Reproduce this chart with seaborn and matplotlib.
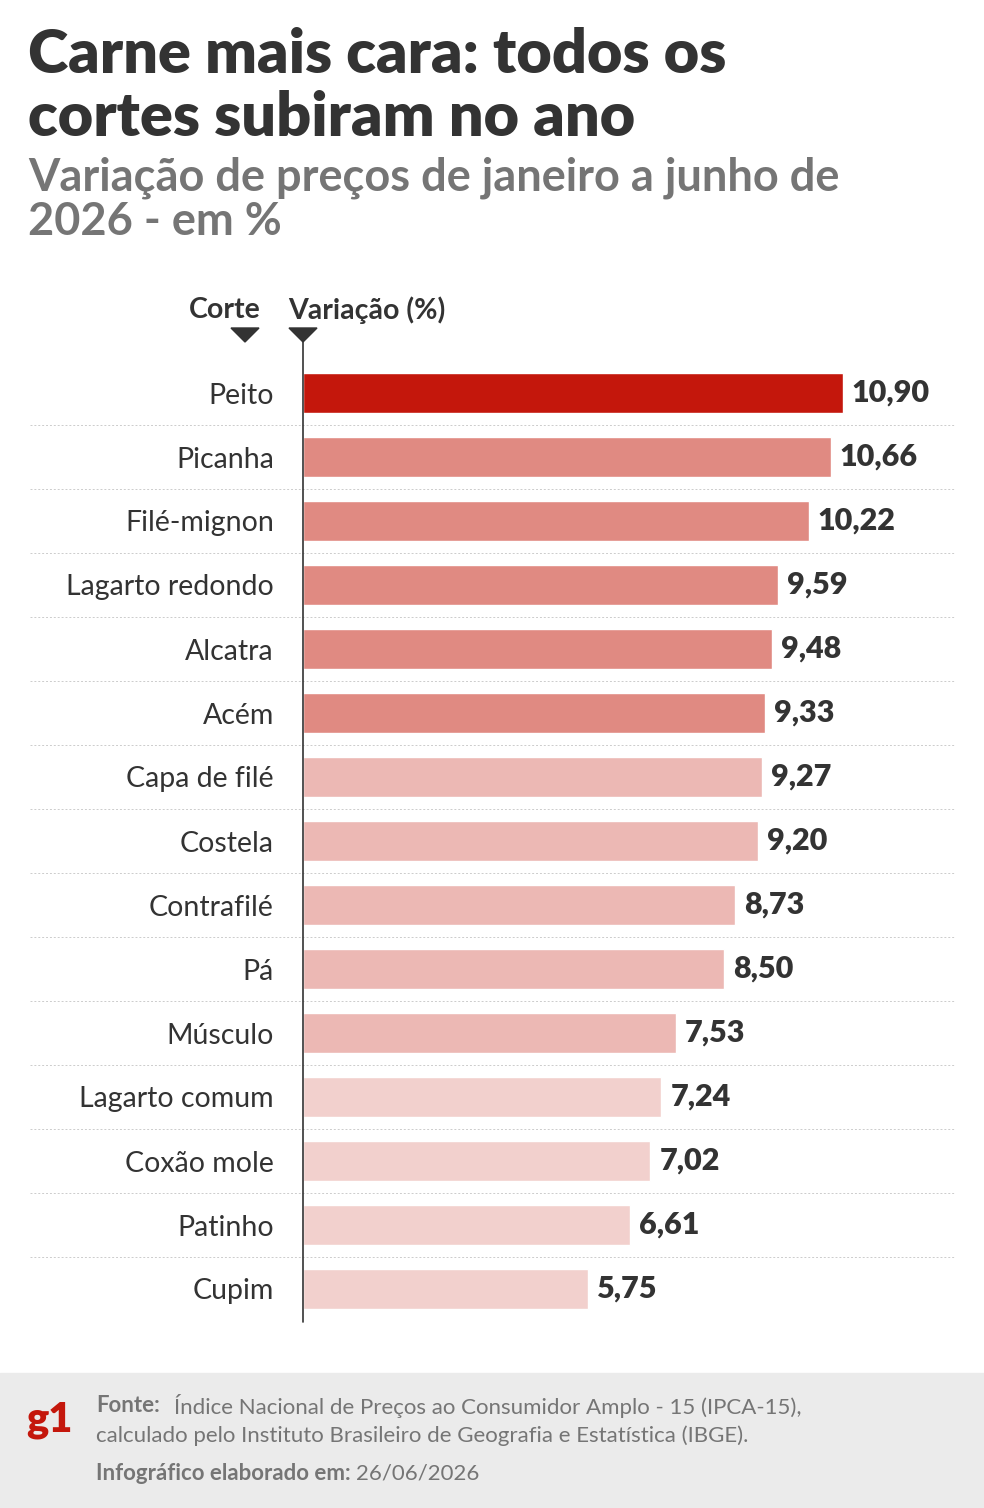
import pandas as pd
import matplotlib.pyplot as plt
import seaborn as sns
from matplotlib.patches import Rectangle

sns.set_theme(style="white")
plt.rcParams['font.family'] = ['Lato', 'DejaVu Sans']

df = pd.DataFrame({
    'corte': ['Peito', 'Picanha', 'Filé-mignon', 'Lagarto redondo', 'Alcatra', 'Acém',
              'Capa de filé', 'Costela', 'Contrafilé', 'Pá', 'Músculo', 'Lagarto comum',
              'Coxão mole', 'Patinho', 'Cupim'],
    'variacao': [10.90, 10.66, 10.22, 9.59, 9.48, 9.33, 9.27, 9.20, 8.73, 8.50,
                 7.53, 7.24, 7.02, 6.61, 5.75],
})
colors = ['#c4170c'] + ['#e08a82'] * 5 + ['#ecb8b4'] * 5 + ['#f2d0cd'] * 4

W, H = 984, 1508
fig = plt.figure(figsize=(W / 100, H / 100), dpi=100)

def fx(px): return px / W
def fy(py): return 1 - py / H

ax = fig.add_axes([fx(303), fy(1321), fx(955 - 303), (1321 - 361) / H])
sns.barplot(data=df, y='corte', x='variacao', hue='corte', palette=colors,
            legend=False, width=0.63, ax=ax, saturation=1)
xmax = (955 - 303) / 49.5
ax.set_xlim(0, xmax)
ax.set_ylim(14.5, -0.5)
for s in ax.spines.values():
    s.set_visible(False)
ax.set_xticks([])
ax.set_ylabel('')
ax.set_xlabel('')
ax.tick_params(axis='y', length=0, pad=21, labelsize=20.5, labelcolor='#333333')
for i, v in enumerate(df['variacao']):
    ax.text(v + 0.18, i, f"{v:.2f}".replace('.', ','), va='center', ha='left',
            fontsize=22, fontweight='heavy', color='#333333')
for i in range(14):
    ax.plot([-(303 - 30) / 49.5, xmax], [i + 0.5, i + 0.5], ls=(0, (2, 2)), lw=0.7,
            color='#cccccc', clip_on=False, zorder=0)

# vertical axis line and header markers
fig.add_artist(plt.Line2D([fx(303), fx(303)], [fy(330), fy(1322)], color='#333333', lw=1.2))
fig.text(fx(261), fy(310), 'Corte', ha='right', va='center', fontsize=20.5,
         fontweight='bold', color='#333333')
fig.text(fx(288), fy(310), 'Variação (%)', ha='left', va='center', fontsize=20.5,
         fontweight='bold', color='#333333')
for xc in (245, 303):
    fig.add_artist(plt.Polygon([[fx(xc - 14), fy(328)], [fx(xc + 14), fy(328)], [fx(xc), fy(342)]],
                               closed=True, color='#333333'))

# titles
fig.text(fx(28), fy(55), 'Carne mais cara: todos os', fontsize=44, fontweight='heavy',
         color='#333333', va='center')
fig.text(fx(28), fy(118), 'cortes subiram no ano', fontsize=44, fontweight='heavy',
         color='#333333', va='center')
fig.text(fx(28), fy(178), 'Variação de preços de janeiro a junho de', fontsize=32.5,
         fontweight='bold', color='#757575', va='center')
fig.text(fx(28), fy(222), '2026 - em %', fontsize=32.5, fontweight='bold',
         color='#757575', va='center')

# footer
fig.add_artist(Rectangle((0, 0), 1, fy(1373), color='#ebebeb', zorder=-1))
fig.text(fx(26), fy(1420), 'g1', fontsize=30, fontweight='heavy', color='#c4170c', va='center')
fig.text(fx(96), fy(1406), 'Fonte:', fontsize=16, fontweight='bold', color='#757575', va='center')
fig.text(fx(174), fy(1406), 'Índice Nacional de Preços ao Consumidor Amplo - 15 (IPCA-15),',
         fontsize=16, color='#757575', va='center')
fig.text(fx(96), fy(1436), 'calculado pelo Instituto Brasileiro de Geografia e Estatística (IBGE).',
         fontsize=16, color='#757575', va='center')
t = fig.text(fx(96), fy(1473), 'Infográfico elaborado em:', fontsize=16, fontweight='bold',
             color='#757575', va='center')
r = fig.canvas.get_renderer()
x1 = t.get_window_extent(r).x1
fig.text(x1 / W + fx(5), fy(1473), '26/06/2026', fontsize=16, color='#757575', va='center')

fig.savefig('out.png', dpi=100)
